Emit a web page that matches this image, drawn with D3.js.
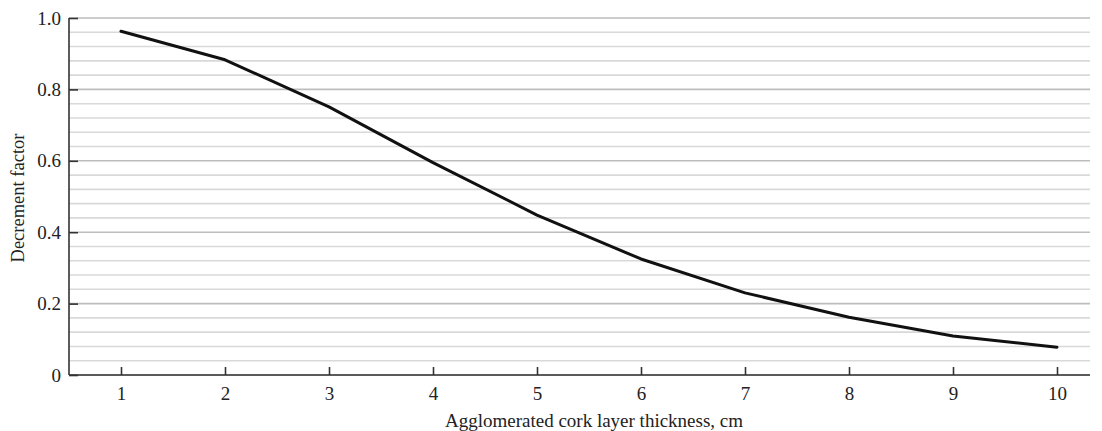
<!DOCTYPE html>
<html><head><meta charset="utf-8">
<script src="https://cdn.jsdelivr.net/npm/d3@7"></script>
<style>body{margin:0;background:#fff}svg{display:block}text{font-family:"Liberation Serif","Times New Roman",serif;fill:#222}</style>
</head><body><svg id="c" width="1102" height="431"></svg>
<script>
const xValues = [1,2,3,4,5,6,7,8,9,10];
const decrement = [0.963,0.883,0.751,0.595,0.448,0.325,0.230,0.162,0.109,0.078];
const xTicks = [1,2,3,4,5,6,7,8,9,10];
const yTicks = [0,0.2,0.4,0.6,0.8,1.0];
const yTickLabels = ["0","0.2","0.4","0.6","0.8","1.0"];
const xLabel = "Agglomerated cork layer thickness, cm";
const yLabel = "Decrement factor";

const svg = d3.select("#c");
const L=69, R=1090, T=18, B=375;
const x = d3.scaleLinear().domain([1,10]).range([121,1057]);
const y = d3.scaleLinear().domain([0,1]).range([B,T]);

const minor = d3.range(0,1.0001,0.04).map(v=>+v.toFixed(2));
svg.append("g").selectAll("line").data(minor).join("line")
  .attr("x1",L).attr("x2",R).attr("y1",d=>y(d)).attr("y2",d=>y(d))
  .attr("stroke",d=> (Math.abs(d*5-Math.round(d*5))<1e-6)?"#bdbdbd":"#d9d9d9")
  .attr("stroke-width",1.6);

const ya = svg.append("g").attr("transform",`translate(${L},0)`)
  .call(d3.axisLeft(y).tickValues(yTicks).tickFormat((d,i)=>yTickLabels[i]).tickSize(7).tickPadding(1));
const xa = svg.append("g").attr("transform",`translate(0,${B})`)
  .call(d3.axisBottom(x).tickValues(xTicks).tickSize(-8).tickPadding(12).tickSizeOuter(0));
[ya,xa].forEach(a=>{a.attr("font-size",null).attr("font-family",null);
  a.select(".domain").attr("stroke","#333").attr("stroke-width",1.6);
  a.selectAll(".tick line").attr("stroke","#333").attr("stroke-width",1.6);
  a.selectAll("text").style("font-size","19px").style("fill","#222");});
ya.selectAll(".tick line").attr("x1",0).attr("x2",9);
ya.select(".domain").attr("d",`M0,${T}V${B}`);
xa.select(".domain").attr("d",`M${L},0H${R}`);
xa.selectAll(".tick text").attr("dy","0.71em");

svg.append("path").datum(xValues.map((v,i)=>[v,decrement[i]]))
  .attr("fill","none").attr("stroke","#111").attr("stroke-width",3)
  .attr("stroke-linejoin","round").attr("stroke-linecap","round")
  .attr("d",d3.line().x(d=>x(d[0])).y(d=>y(d[1])));

svg.append("text").attr("x",594).attr("y",427).attr("text-anchor","middle")
  .style("font-size","19px").text(xLabel);
svg.append("text").attr("transform",`translate(24,198) rotate(-90)`).attr("text-anchor","middle")
  .style("font-size","18.5px").text(yLabel);
</script></body></html>
